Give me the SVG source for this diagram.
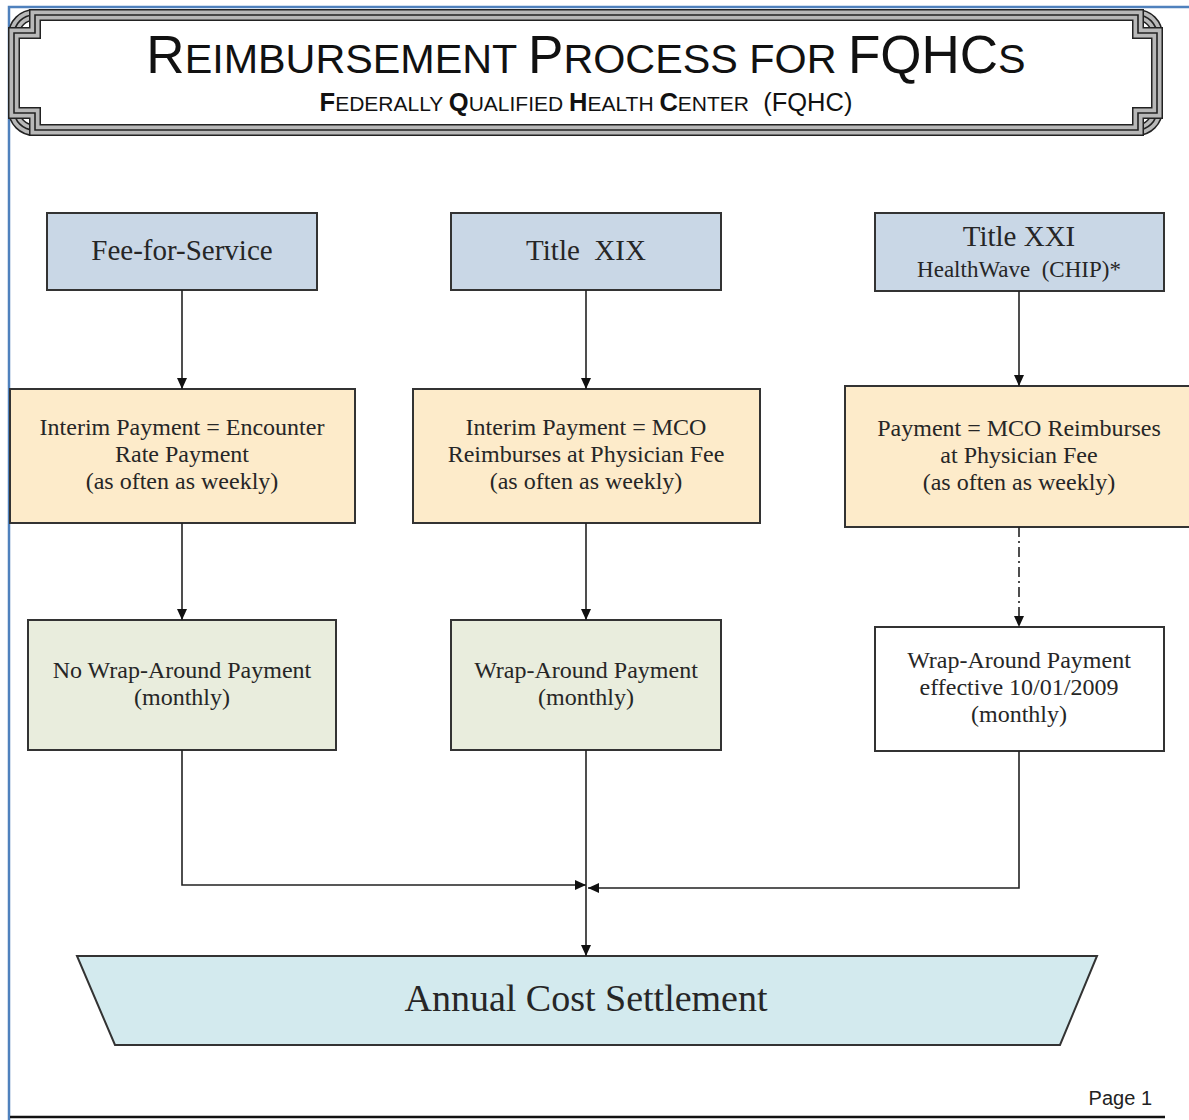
<svg xmlns="http://www.w3.org/2000/svg" width="1189" height="1120" viewBox="0 0 1189 1120">
<style>
  .page{stroke:#4f81bd;stroke-width:2.5;fill:none}
  .fo{fill:none;stroke:#222;stroke-width:12;stroke-linejoin:miter}
  .fm{fill:none;stroke:#b8b8b8;stroke-width:9}
  .fc{fill:none;stroke:#222;stroke-width:1.6}
  .box{stroke:#333;stroke-width:2}
  .blue{fill:#c9d7e6}
  .tan{fill:#fdebca}
  .green{fill:#e9eddd}
  .white{fill:#fff}
  .cyan{fill:#d3eaee}
  .t{font-family:"Liberation Serif","Times New Roman",serif;fill:#262626;text-anchor:middle}
  .h{font-family:"Liberation Sans",Arial,sans-serif;fill:#111;text-anchor:middle}
  .conn path{fill:none;stroke:#222;stroke-width:1.6}
</style>
<defs>
  <marker id="arr" markerUnits="userSpaceOnUse" markerWidth="12" markerHeight="10" refX="11" refY="5" orient="auto">
    <path d="M0,0 L11,5 L0,10 Z" fill="#111"/>
  </marker>
  <path id="fr1" d="M34,15 H1137 A20,20 0 0 1 1157,35 V110 A20,20 0 0 1 1137,130 H34 A20,20 0 0 1 14,110 V35 A20,20 0 0 1 34,15 Z"/>
  <path id="fr2" d="M35,15 H1138 V33 H1157 V113 H1138 V130 H35 V113 H14 V33 H35 Z"/>
</defs>
<rect x="0" y="0" width="1189" height="1120" fill="#fff"/>
<path class="page" d="M9,1120 V7 H1189"/>
<line x1="10" y1="1117" x2="1165" y2="1117" stroke="#111" stroke-width="2.5"/>

<g id="header">
  <use href="#fr1" class="fo"/>
  <use href="#fr1" class="fm"/>
  <use href="#fr1" class="fc"/>
  <use href="#fr2" class="fo"/>
  <use href="#fr2" class="fm"/>
  <use href="#fr2" class="fc"/>
  <text class="h" x="586" y="73" font-size="53">R<tspan font-size="41.3">EIMBURSEMENT </tspan>P<tspan font-size="41.3">ROCESS FOR </tspan>FQHC<tspan font-size="41.3">S</tspan></text>
  <text class="h" x="586" y="111" font-size="25.5" xml:space="preserve"><tspan font-weight="bold">F</tspan><tspan font-size="21">EDERALLY </tspan><tspan font-weight="bold">Q</tspan><tspan font-size="21">UALIFIED </tspan><tspan font-weight="bold">H</tspan><tspan font-size="21">EALTH </tspan><tspan font-weight="bold">C</tspan><tspan font-size="21">ENTER</tspan>  (FQHC)</text>
</g>

<g id="ffs">
  <rect class="box blue" x="47" y="213" width="270" height="77"/>
  <text class="t" x="182" y="260" font-size="29">Fee-for-Service</text>
</g>
<g id="t19">
  <rect class="box blue" x="451" y="213" width="270" height="77"/>
  <text class="t" x="586" y="260" font-size="29" xml:space="preserve">Title  XIX</text>
</g>
<g id="t21">
  <rect class="box blue" x="875" y="213" width="289" height="78"/>
  <text class="t" x="1019" y="246" font-size="29">Title XXI</text>
  <text class="t" x="1019" y="277" font-size="23" xml:space="preserve">HealthWave  (CHIP)*</text>
</g>

<g id="interim1">
  <rect class="box tan" x="10" y="389" width="345" height="134"/>
  <text class="t" x="182" y="435" font-size="24">Interim Payment = Encounter</text>
  <text class="t" x="182" y="462" font-size="24">Rate Payment</text>
  <text class="t" x="182" y="489" font-size="24">(as often as weekly)</text>
</g>
<g id="interim2">
  <rect class="box tan" x="413" y="389" width="347" height="134"/>
  <text class="t" x="586" y="435" font-size="24">Interim Payment = MCO</text>
  <text class="t" x="586" y="462" font-size="24">Reimburses at Physician Fee</text>
  <text class="t" x="586" y="489" font-size="24">(as often as weekly)</text>
</g>
<g id="payment3">
  <rect class="box tan" x="845" y="386" width="350" height="141"/>
  <text class="t" x="1019" y="436" font-size="24">Payment = MCO Reimburses</text>
  <text class="t" x="1019" y="463" font-size="24">at Physician Fee</text>
  <text class="t" x="1019" y="490" font-size="24">(as often as weekly)</text>
</g>

<g id="wrap1">
  <rect class="box green" x="28" y="620" width="308" height="130"/>
  <text class="t" x="182" y="678" font-size="24">No Wrap-Around Payment</text>
  <text class="t" x="182" y="705" font-size="24">(monthly)</text>
</g>
<g id="wrap2">
  <rect class="box green" x="451" y="620" width="270" height="130"/>
  <text class="t" x="586" y="678" font-size="24">Wrap-Around Payment</text>
  <text class="t" x="586" y="705" font-size="24">(monthly)</text>
</g>
<g id="wrap3">
  <rect class="box white" x="875" y="627" width="289" height="124"/>
  <text class="t" x="1019" y="668" font-size="24">Wrap-Around Payment</text>
  <text class="t" x="1019" y="695" font-size="24">effective 10/01/2009</text>
  <text class="t" x="1019" y="722" font-size="24">(monthly)</text>
</g>

<g id="settlement">
  <path class="box cyan" d="M77,956 H1097 L1060,1045 H115 Z"/>
  <text class="t" x="586" y="1011" font-size="38">Annual Cost Settlement</text>
</g>

<g id="connectors" class="conn">
  <path d="M182,290 V389" marker-end="url(#arr)"/>
  <path d="M586,290 V389" marker-end="url(#arr)"/>
  <path d="M1019,291 V386" marker-end="url(#arr)"/>
  <path d="M182,523 V620" marker-end="url(#arr)"/>
  <path d="M586,523 V620" marker-end="url(#arr)"/>
  <path d="M1019,527 V627" stroke-dasharray="10,4,2,4" marker-end="url(#arr)"/>
  <path d="M182,750 V885 H586" marker-end="url(#arr)"/>
  <path d="M1019,751 V888 H588" marker-end="url(#arr)"/>
  <path d="M586,750 V956" marker-end="url(#arr)"/>
</g>

<text x="1152" y="1105" font-family="'Liberation Sans',Arial,sans-serif" font-size="20" fill="#222" text-anchor="end">Page 1</text>
</svg>
